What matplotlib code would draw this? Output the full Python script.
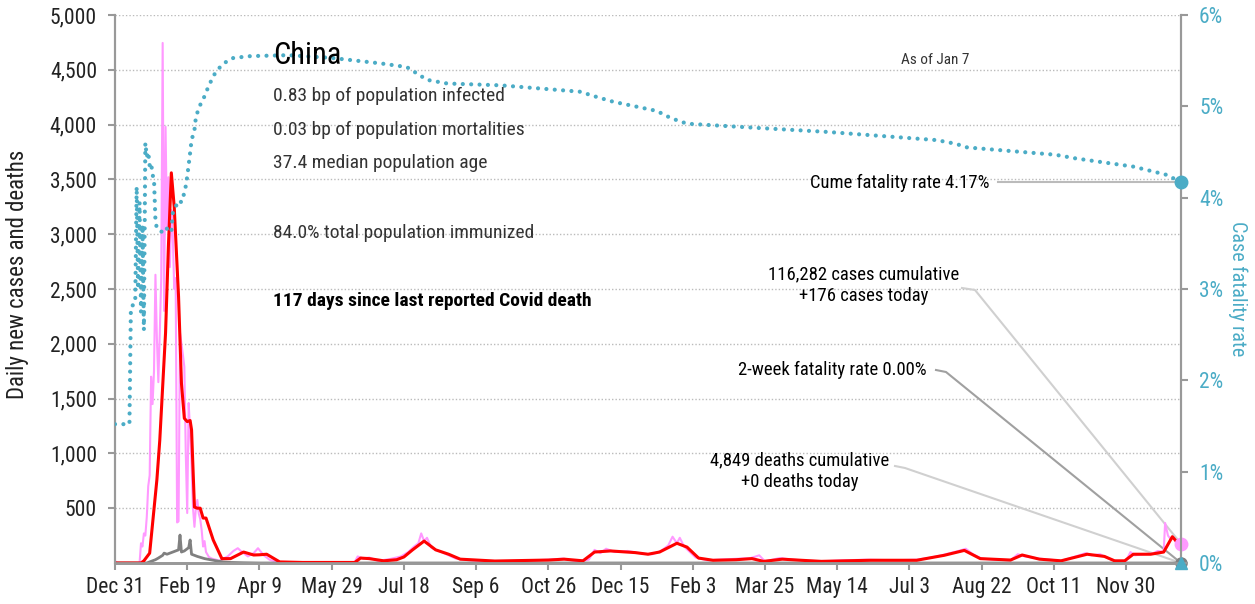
import matplotlib
matplotlib.use("Agg")
from matplotlib import pyplot as plt
import numpy as np

plt.rcParams['font.family'] = ['Roboto Condensed', 'DejaVu Sans']

# days counted from Dec 31 2019, last day is Jan 7 2022
last_day = 738
tick_labels = ['Dec 31', 'Feb 19', 'Apr 9', 'May 29', 'Jul 18', 'Sep 6', 'Oct 26',
               'Dec 15', 'Feb 3', 'Mar 25', 'May 14', 'Jul 3', 'Aug 22', 'Oct 11', 'Nov 30']
tick_step = 50

# cumulative case fatality rate, percent
cfr_points = [(0, 1.52), (10, 1.52), (11, 2.80), (14, 2.85), (15, 4.12), (16, 3.00), (17, 3.95),
              (18, 2.75), (19, 3.70), (20, 2.55), (21, 4.60), (22, 4.45), (23, 4.50), (24, 4.35),
              (25, 4.38), (26, 4.25), (27, 4.20), (28, 3.75), (29, 3.66), (31, 3.64), (33, 3.62),
              (35, 3.67), (37, 3.65), (39, 3.62), (40, 3.83), (42, 3.90), (44, 3.97), (46, 3.95),
              (47, 4.00), (48.5, 4.08), (50, 4.23), (52, 4.49), (53, 4.63), (55, 4.74), (56, 4.88),
              (58, 4.98), (60, 5.05), (62, 5.11), (64, 5.19), (66, 5.26), (68, 5.33), (71, 5.40),
              (74, 5.45), (78, 5.50), (82, 5.53), (94, 5.55), (120, 5.56), (150, 5.53),
              (184, 5.47), (202, 5.43), (207, 5.38), (216, 5.29), (230, 5.25), (267, 5.23),
              (322, 5.16), (334, 5.10), (345, 5.05), (375, 4.95), (385, 4.87), (396, 4.81),
              (438, 4.77), (493, 4.72), (569, 4.63), (582, 4.59), (590, 4.55), (651, 4.47),
              (665, 4.43), (705, 4.34), (728, 4.25), (738, 4.17)]

# daily new cases (raw)
case_points = [(0, 20), (1, 5), (2, 0), (17, 0), (18, 180), (19, 150), (20, 270), (21, 250), (22, 420),
               (23, 700), (24, 800), (25, 1700), (26, 1450), (27, 1750), (28, 2630), (29, 2050),
               (30, 1650), (31, 2100), (32, 2600), (33, 4745), (34, 2300), (35, 3980), (36, 3040),
               (37, 3520), (38, 2700), (39, 3220), (40, 3000), (41, 2500), (42, 2600), (43, 370),
               (44, 380), (45, 2100), (46, 2000), (47, 1900), (48, 1790), (49, 1000), (50, 456),
               (51, 1460), (52, 1200), (53, 900), (54, 500), (55, 330), (56, 500), (57, 575),
               (58, 450), (59, 400), (60, 300), (61, 150), (62, 200), (63, 100), (65, 55), (67, 40),
               (70, 30), (72, 20), (75, 40), (78, 60), (82, 110), (85, 135), (88, 100), (92, 60),
               (96, 90), (99, 135), (103, 70), (107, 30), (112, 10), (120, 5), (160, 5), (166, 10),
               (168, 60), (172, 40), (176, 50), (182, 20), (190, 35), (198, 60), (203, 100),
               (207, 150), (210, 180), (212, 270), (214, 200), (216, 230), (219, 140), (222, 120),
               (226, 100), (231, 70), (236, 40), (245, 25), (260, 15), (280, 20), (300, 30),
               (310, 40), (320, 15), (328, 30), (332, 120), (336, 90), (340, 130), (346, 100),
               (355, 110), (365, 85), (372, 80), (378, 110), (383, 160), (386, 240), (389, 180),
               (391, 230), (394, 150), (398, 100), (402, 50), (410, 25), (425, 35), (440, 45),
               (446, 70), (450, 15), (460, 45), (470, 30), (480, 20), (490, 15), (505, 25),
               (520, 30), (540, 25), (555, 30), (565, 50), (572, 70), (578, 90), (584, 110),
               (589, 130), (594, 80), (600, 40), (610, 30), (620, 25), (625, 80), (630, 60),
               (640, 40), (655, 20), (665, 60), (672, 90), (676, 70), (682, 80), (688, 40),
               (694, 15), (700, 20), (703, 100), (706, 70), (712, 80), (718, 85), (722, 110),
               (726, 100), (727, 365), (729, 250), (731, 215), (733, 230), (735, 170), (736, 150),
               (738, 176)]

# 7-day average of new cases
avg_points = [(0, 0), (18, 0), (20, 20), (24, 90), (29, 760), (31, 1120), (35, 2100), (37, 2900),
              (39, 3560), (41, 3250), (44, 2430), (46, 1640), (48, 1320), (50, 1290), (52, 1300),
              (53, 1215), (55, 510), (57, 500), (59, 500), (61, 410), (63, 410), (68, 210), (74, 40),
              (80, 40), (89, 100), (96, 73), (100, 75), (105, 80), (114, 10), (130, 5), (166, 5),
              (170, 45), (176, 40), (186, 20), (195, 30), (200, 55), (206, 120), (214, 200),
              (222, 120), (231, 80), (239, 35), (263, 18), (300, 27), (311, 35), (324, 20),
              (332, 100), (343, 110), (360, 95), (369, 80), (377, 100), (389, 180), (396, 145),
              (404, 45), (414, 25), (430, 30), (441, 40), (449, 15), (462, 35), (475, 25), (489, 15),
              (523, 25), (555, 25), (574, 70), (588, 115), (599, 40), (620, 27), (628, 73), (640, 35),
              (655, 20), (673, 80), (685, 60), (692, 20), (699, 20), (705, 80), (717, 80), (726, 100),
              (732, 240), (735, 195), (738, 180)]

# daily new deaths
death_points = [(0, 0), (22, 0), (24, 10), (28, 30), (30, 45), (33, 70), (34, 90), (36, 80),
                (40, 100), (42, 110), (44, 120), (45, 255), (46, 100), (48, 110), (50, 130),
                (51, 140), (52, 210), (53, 80), (55, 70), (57, 60), (62, 40), (66, 30), (70, 20),
                (75, 10), (80, 5), (90, 2), (100, 0), (738, 0)]

cume_cfr = 4.17
twoweek_cfr = 0.00
cases_cum = 116282
cases_today = 176
deaths_cum = 4849
deaths_today = 0

info_lines = ['0.83 bp of population infected',
              '0.03 bp of population mortalities',
              '37.4 median population age']
immunized = '84.0% total population immunized'
last_death = '117 days since last reported Covid death'

TEAL = '#4bacc6'
PINK = '#ff99ff'
RED = '#ff0000'
GRAY = '#808080'
AXIS = '#999999'

W, H = 1255, 604
fig = plt.figure(figsize=(W / 100, H / 100), dpi=100)
ax = fig.add_axes([115 / W, 41 / H, 1066 / W, 548 / H])
ax2 = ax.twinx()


def px(x, y):
    return x / W, 1 - y / H


def day_at(x):
    return (x - 115) / 1066 * last_day


def val_at(y):
    return (563 - y) / 548 * 5000


cd, cv = zip(*case_points)
ad, av = zip(*avg_points)
dd, dv = zip(*death_points)
fd, fv = zip(*cfr_points)

ax.plot(cd, cv, color=PINK, lw=1.5, zorder=2)
ax.plot(dd, dv, color=GRAY, lw=2, zorder=3)
ax.plot(ad, av, color=RED, lw=2.2, zorder=4)
ax.plot([last_day], [cases_today], 'o', color=PINK, ms=9, zorder=6, clip_on=False)
ax.plot([last_day], [deaths_today], 'o', color=GRAY, ms=8, zorder=6, clip_on=False)

ax2.plot(fd, np.array(fv) / 100, color=TEAL, lw=3, linestyle=(0, (0.01, 2.0)),
         dash_capstyle='round', zorder=5)
ax2.plot([last_day], [cume_cfr / 100], 'o', color=TEAL, ms=9, zorder=6, clip_on=False)
ax2.plot([last_day], [twoweek_cfr / 100], '^', color=TEAL, ms=9, zorder=6, clip_on=False)

ax.set_xlim(0, last_day)
ax.set_ylim(0, 5000)
ax2.set_ylim(0, 0.06)

ax.set_yticks(np.arange(500, 5001, 500))
ax.set_yticklabels(['{:,}'.format(v) for v in range(500, 5001, 500)])
ax.set_xticks(np.arange(len(tick_labels)) * tick_step)
ax.set_xticklabels(tick_labels)
ax2.set_yticks(np.arange(0, 0.061, 0.01))
ax2.set_yticklabels(['{}%'.format(i) for i in range(7)])

ax.grid(axis='y', color='#bbbbbb', linestyle=(0, (1, 1.5)), lw=1)
ax.set_axisbelow(True)

for a in (ax, ax2):
    a.spines['top'].set_visible(False)
    a.spines['left'].set_color(AXIS)
    a.spines['right'].set_color(AXIS)
    a.spines['bottom'].set_color(AXIS)
    a.spines['left'].set_linewidth(1.5)
    a.spines['right'].set_linewidth(1.5)
    a.spines['bottom'].set_linewidth(2)

ax.tick_params(axis='both', colors=AXIS, labelcolor='#222222', labelsize=15.5, length=5, width=1.5)
ax.tick_params(axis='y', pad=8)
ax.tick_params(axis='x', pad=5)
ax2.tick_params(axis='y', colors=AXIS, labelcolor=TEAL, labelsize=15.5, length=5, width=1.5, pad=8)

ax.set_ylabel('Daily new cases and deaths', fontsize=16.5, color='#222222', va='center')
ax.yaxis.set_label_coords(-0.091, 0.527)
ax2.set_ylabel('Case fatality rate', fontsize=14.5, color=TEAL, rotation=270, va='center')
ax2.yaxis.set_label_coords(1.0535, 0.5)

# text block
fig.text(*px(273, 55), 'China', fontsize=22, va='center', ha='left')
for i, line in enumerate(info_lines):
    fig.text(*px(273, 96 + 33.5 * i), line, fontsize=14, va='center', ha='left', color='#333333')
fig.text(*px(273, 233), immunized, fontsize=14, va='center', ha='left', color='#333333')
fig.text(*px(273, 301), last_death, fontsize=14, va='center', ha='left', fontweight='bold')
fig.text(*px(935, 60), 'As of Jan 7', fontsize=11, va='center', ha='center', color='#333333')

# annotations with leader lines
fig.text(*px(990, 183), 'Cume fatality rate {:.2f}%'.format(cume_cfr), fontsize=13.4,
         va='center', ha='right')
ax2.plot([day_at(998), last_day], [cume_cfr / 100, cume_cfr / 100], color='#bbbbbb', lw=1.5, zorder=1)

fig.text(*px(864, 285), '{:,} cases cumulative\n+{} cases today'.format(cases_cum, cases_today),
         fontsize=13.4, va='center', ha='center', linespacing=1.25)
ax.plot([day_at(962), day_at(975), last_day], [val_at(288), val_at(290), cases_today],
        color='#d0d0d0', lw=1.5, zorder=1)

fig.text(*px(927, 370), '2-week fatality rate {:.2f}%'.format(twoweek_cfr), fontsize=13.4,
         va='center', ha='right')
ax.plot([day_at(936), day_at(946), last_day], [val_at(370), val_at(372), 0],
        color='#a0a0a0', lw=1.5, zorder=1)

fig.text(*px(800, 471), '{:,} deaths cumulative\n+{} deaths today'.format(deaths_cum, deaths_today),
         fontsize=13.4, va='center', ha='center', linespacing=1.25)
ax.plot([day_at(895), day_at(905), last_day], [val_at(466), val_at(468), deaths_today],
        color='#d0d0d0', lw=1.5, zorder=1)

fig.savefig('out.png', dpi=100)
